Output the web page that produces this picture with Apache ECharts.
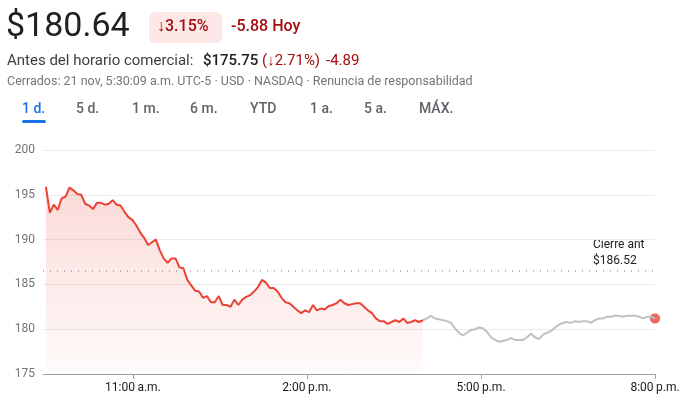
<!DOCTYPE html>
<html><head><meta charset="utf-8">
<script src="https://cdn.jsdelivr.net/npm/echarts@6/dist/echarts.min.js"></script>
<style>body{margin:0;background:#fff}#c{width:689px;height:411px}</style></head>
<body><div id="c"></div>
<script>
const regularValues=[195.9,193.0,193.9,193.3,194.6,194.8,195.8,195.5,195.1,195.0,194.0,193.8,193.4,194.1,194.1,193.9,194.0,194.4,193.9,193.8,193.1,192.5,192.2,191.6,190.8,190.2,189.4,189.7,190.0,188.8,187.9,187.4,187.9,187.9,186.9,186.8,185.5,184.9,184.3,184.2,183.5,183.7,183.0,183.0,183.7,182.7,182.7,182.5,183.3,182.7,183.3,183.6,183.8,184.2,184.7,185.5,185.2,184.6,184.6,184.2,183.5,183.0,182.9,182.5,182.1,181.8,182.1,181.9,182.7,182.1,182.3,182.2,182.6,182.7,182.9,183.3,182.9,182.7,182.8,182.9,182.9,182.5,182.1,181.8,181.2,180.9,180.9,180.6,180.8,181.0,180.8,181.2,180.7,180.8,181.0,180.8,181.0];
const afterValues=[181.0,181.2,181.5,181.2,181.1,181.0,180.9,180.7,180.1,179.6,179.3,179.6,179.9,180.0,180.2,180.1,179.7,179.1,178.8,178.6,178.7,178.8,179.0,178.8,178.8,178.8,179.1,179.5,179.1,178.9,179.4,179.6,179.8,180.2,180.5,180.7,180.8,180.7,180.9,180.8,180.9,180.9,180.7,181.0,181.2,181.2,181.4,181.4,181.5,181.5,181.4,181.5,181.5,181.5,181.4,181.2,181.4,181.4,181.2];
const prevClose=186.52;
const sessionStart=9.5, sessionEnd=16, afterEnd=20;
const xTicks=[11,14,17,20];
const xTickLabels=['11:00\u2009a.m.','2:00\u2009p.m.','5:00\u2009p.m.','8:00\u2009p.m.'];

const reg=regularValues.map((v,i)=>[sessionStart+i*(sessionEnd-sessionStart)/(regularValues.length-1),v]);
const aft=afterValues.map((v,i)=>[sessionEnd+i*(afterEnd-sessionEnd)/(afterValues.length-1),v]);
const last=aft[aft.length-1];

const ch=echarts.init(document.getElementById('c'));
const F='Roboto, Arial, sans-serif';
const tabs=['1 d.','5 d.','1 m.','6 m.','YTD','1 a.','5 a.','MÁX.'];
const tabX=[22,76,132,190,250,310,364,419];
const g=[
 {type:'text',left:6,top:10,style:{text:'$180.64',font:'400 34px '+F,fill:'#202124'}},
 {type:'rect',shape:{x:149,y:12,width:73,height:31,r:6},style:{fill:'#fce8e6'}},
 {type:'text',left:157,top:19,style:{text:'↓3.15%',font:'500 16px '+F,fill:'#a50e0e'}},
 {type:'text',left:231,top:19,style:{text:'-5.88 Hoy',font:'500 16px '+F,fill:'#a50e0e'}},
 {type:'text',left:7,top:54,style:{text:'Antes del horario comercial:',font:'15px '+F,fill:'#3c4043'}},
 {type:'text',left:203,top:54,style:{text:'$175.75',font:'500 15px '+F,fill:'#202124'}},
 {type:'text',left:262,top:54,style:{text:'(↓2.71%)',font:'15px '+F,fill:'#a50e0e'}},
 {type:'text',left:326,top:54,style:{text:'-4.89',font:'15px '+F,fill:'#a50e0e'}},
 {type:'text',left:7,top:75,style:{text:'Cerrados: 21 nov, 5:30:09 a.m. UTC-5 · USD · NASDAQ · Renuncia de responsabilidad',font:'12.5px '+F,fill:'#70757a'}},
 {type:'rect',shape:{x:22,y:120,width:24,height:3,r:1.5},style:{fill:'#1a73e8'}}
];
tabs.forEach((t,i)=>g.push({type:'text',left:tabX[i],top:102,style:{text:t,font:'500 14px '+F,fill:i===0?'#1a73e8':'#5f6368'}}));
g.push({type:'text',left:593,top:237,style:{text:'Cierre ant\n$186.52',font:'12px '+F,fill:'#202124',lineHeight:16}});

ch.setOption({
 animation:false,
 graphic:g,
 grid:{left:43,right:34,top:150,bottom:37},
 xAxis:{type:'value',min:9.45,max:20,
  axisLine:{lineStyle:{color:'#9aa0a6'}},
  splitLine:{show:false},
  axisTick:{show:true,customValues:xTicks,length:5,lineStyle:{color:'#9aa0a6'}},
  axisLabel:{customValues:xTicks,formatter:v=>xTickLabels[xTicks.indexOf(v)],color:'#202124',fontSize:12,fontFamily:F,margin:8}},
 yAxis:{type:'value',min:175,max:200,interval:5,
  axisLine:{show:false},axisTick:{show:false},
  splitLine:{lineStyle:{color:'#ebebeb'}},
  axisLabel:{color:'#70757a',fontSize:12,fontFamily:F,margin:8,align:'right'}},
 series:[
  {type:'line',data:reg,showSymbol:false,lineStyle:{color:'#ea4335',width:2},
   areaStyle:{origin:'start',color:new echarts.graphic.LinearGradient(0,0,0,1,[{offset:0,color:'rgba(234,67,53,0.28)'},{offset:1,color:'rgba(234,67,53,0.03)'}])},
   markLine:{silent:true,symbol:'none',label:{show:false},lineStyle:{color:'#9aa0a6',type:[1,6],width:1.5},data:[{yAxis:prevClose}]}},
  {type:'line',data:aft,showSymbol:false,lineStyle:{color:'#bdc1c6',width:2}},
  {type:'scatter',data:[last],symbolSize:11,itemStyle:{color:'#ea4335',borderColor:'#fff',borderWidth:1}}
 ]
});
</script></body></html>
